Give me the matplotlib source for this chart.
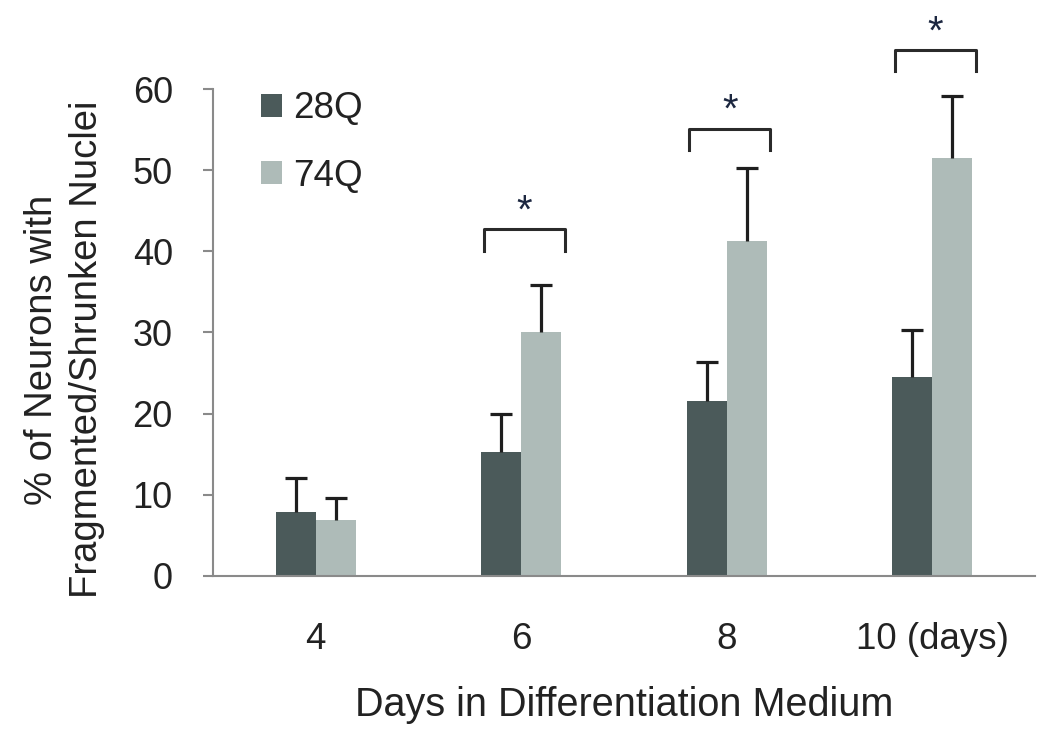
import matplotlib
matplotlib.use("Agg")
import matplotlib.pyplot as plt
import numpy as np

plt.rcParams['font.family'] = ['Liberation Sans', 'DejaVu Sans']

# data
days = ["4", "6", "8", "10 (days)"]
q28_mean = [7.9, 15.3, 21.6, 24.5]
q28_err = [4.15, 4.7, 4.8, 5.8]
q74_mean = [6.9, 30.0, 41.3, 51.5]
q74_err = [2.7, 5.8, 9.0, 7.7]

# significance brackets: group index, bracket height
sig_groups = [1, 2, 3]
sig_height = [42.7, 55.1, 64.8]

dark = "#4b5a5a"
light = "#aebbb8"
txt = "#222222"
axis_gray = "#8a8a8a"

fig = plt.figure(figsize=(10.5, 7.43), dpi=100)
ax = fig.add_axes([0.2029, 0.2248, 0.7828, 0.6554])

x = np.arange(len(days))
w = 0.195

ax.bar(x - w / 2, q28_mean, w, color=dark, label="28Q", zorder=2)
ax.bar(x + w / 2, q74_mean, w, color=light, label="74Q", zorder=2)

# upward-only error bars, cap only at the top
for xs, m, e in [(x - w / 2, q28_mean, q28_err), (x + w / 2, q74_mean, q74_err)]:
    eb = ax.errorbar(xs, m, yerr=[np.zeros(len(m)), e], fmt="none",
                     ecolor="#1e1e1e", elinewidth=2.3, capsize=8, capthick=2.3,
                     zorder=3)
    eb[1][0].set_visible(False)

ax.set_xlim(-0.5, 3.5)
ax.set_ylim(0, 60)
ax.set_yticks(range(0, 61, 10))
ax.set_xticks(x)
ax.set_xticklabels(days)

for s in ["top", "right"]:
    ax.spines[s].set_visible(False)
for s in ["left", "bottom"]:
    ax.spines[s].set_color(axis_gray)
    ax.spines[s].set_linewidth(1.5)

ax.tick_params(axis="y", direction="out", length=7, width=1.5, color=axis_gray,
               pad=22, labelsize=26, labelcolor=txt)
ax.tick_params(axis="x", length=0, pad=33, labelsize=26.5, labelcolor=txt)

ax.set_xlabel("Days in Differentiation Medium", fontsize=28.5, color=txt, labelpad=21)
ax.set_ylabel("% of Neurons with\nFragmented/Shrunken Nuclei", fontsize=27.5,
              color=txt, linespacing=1.3)
ax.yaxis.set_label_coords(-0.132, 0.465)

# brackets with stars
for g, h in zip(sig_groups, sig_height):
    x0, x1 = g - 0.183, g + 0.212
    ax.plot([x0, x0, x1, x1], [h - 2.6, h, h, h - 2.6], color="#2a2a2a",
            lw=2.2, clip_on=False, solid_joinstyle="round")
    ax.text((x0 + x1) / 2, h + 2.2, "*", ha="center", va="center",
            fontsize=29, color="#1c2740", clip_on=False)

ax.legend(loc="upper left", bbox_to_anchor=(0.058, 0.995), frameon=False,
          fontsize=26.5, handlelength=0.58, handleheight=0.58, handletextpad=0.3,
          labelspacing=0.88, borderpad=0, borderaxespad=0, labelcolor=txt)

fig.savefig("out.png", dpi=100)
